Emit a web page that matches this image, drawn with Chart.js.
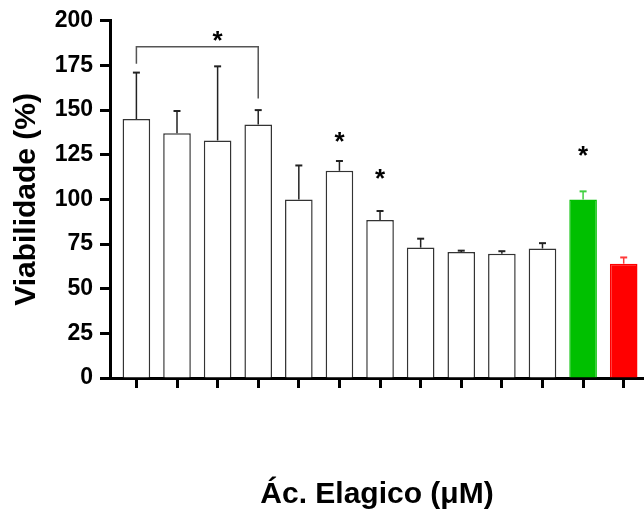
<!DOCTYPE html>
<html>
<head>
<meta charset="utf-8">
<script src="https://cdn.jsdelivr.net/npm/chart.js@4.4.0/dist/chart.umd.min.js"></script>
<style>
  html, body { margin: 0; padding: 0; background: #fff; }
  #grafico { display: block; }
</style>
</head>
<body>
<canvas id="grafico" width="644" height="522"></canvas>
<script>
// grupos (sem rótulo no eixo x)
var categorias = ['', '', '', '', '', '', '', '', '', '', '', '', ''];
// média e desvio da viabilidade (%)
var viabilidade = [145, 137, 133, 142, 100, 116, 88.5, 73, 70.5, 69.5, 72.5, 100, 64];
var desvio = [26, 12.5, 41.5, 8, 19, 5.5, 5, 5, 0.8, 1.5, 3, 4.5, 3.5];
var ticksY = [0, 25, 50, 75, 100, 125, 150, 175, 200];

var corFundo = ['#ffffff', '#ffffff', '#ffffff', '#ffffff', '#ffffff', '#ffffff', '#ffffff',
  '#ffffff', '#ffffff', '#ffffff', '#ffffff', '#00c000', '#ff0000'];
var corBorda = ['#333333', '#333333', '#333333', '#333333', '#333333', '#333333', '#333333',
  '#333333', '#333333', '#333333', '#333333', '#00c000', '#ff0000'];
var corErro = ['#222222', '#222222', '#222222', '#222222', '#222222', '#222222', '#222222',
  '#222222', '#222222', '#222222', '#222222', '#3fcf3f', '#ff3a3a'];

var fonte = "'Liberation Sans', Arial, sans-serif";

var barrasDeErro = {
  id: 'barrasDeErro',
  afterDatasetsDraw: function(chart) {
    var ctx = chart.ctx, sx = chart.scales.x, sy = chart.scales.y;
    ctx.save();
    viabilidade.forEach(function(v, i) {
      var px = sx.getPixelForValue(i);
      var base = sy.getPixelForValue(v);
      var topo = sy.getPixelForValue(v + desvio[i]);
      ctx.strokeStyle = corErro[i];
      ctx.lineWidth = 1.5;
      ctx.beginPath();
      ctx.moveTo(px, base);
      ctx.lineTo(px, topo);
      ctx.stroke();
      ctx.lineWidth = 2;
      ctx.beginPath();
      ctx.moveTo(px - 3.5, topo);
      ctx.lineTo(px + 3.5, topo);
      ctx.stroke();
    });
    ctx.restore();
  }
};

// colchete e asteriscos de significância
var significancia = {
  id: 'significancia',
  afterDatasetsDraw: function(chart) {
    var ctx = chart.ctx, sx = chart.scales.x, sy = chart.scales.y;
    ctx.save();
    ctx.strokeStyle = '#555555';
    ctx.lineWidth = 1.5;
    ctx.beginPath();
    ctx.moveTo(sx.getPixelForValue(0), sy.getPixelForValue(176));
    ctx.lineTo(sx.getPixelForValue(0), sy.getPixelForValue(185.5));
    ctx.lineTo(sx.getPixelForValue(3), sy.getPixelForValue(185.5));
    ctx.lineTo(sx.getPixelForValue(3), sy.getPixelForValue(156.5));
    ctx.stroke();

    ctx.fillStyle = '#000';
    ctx.font = 'bold 26px ' + fonte;
    ctx.textAlign = 'center';
    ctx.textBaseline = 'alphabetic';
    [[2, 189.5], [5, 132.5], [6, 112], [11, 125]].forEach(function(m) {
      ctx.fillText('*', sx.getPixelForValue(m[0]), sy.getPixelForValue(m[1]) + 9);
    });
    ctx.restore();
  }
};

new Chart(document.getElementById('grafico').getContext('2d'), {
  type: 'bar',
  data: {
    datasets: [{
      data: categorias.map(function(c, i) { return { x: i, y: viabilidade[i] }; }),
      backgroundColor: corFundo,
      borderColor: corBorda,
      borderWidth: 1.5,
      barPercentage: 0.68,
      categoryPercentage: 1
    }]
  },
  options: {
    responsive: false,
    animation: false,
    devicePixelRatio: 1,
    layout: { padding: { top: 19, right: 0, left: 0, bottom: 0 } },
    plugins: { legend: { display: false }, tooltip: { enabled: false } },
    scales: {
      x: {
        type: 'linear',
        min: -0.65,
        max: 12.5,
        offset: false,
        afterFit: function(s) { s.height = 144; },
        afterBuildTicks: function(s) {
          s.ticks = categorias.map(function(c, i) { return { value: i }; });
        },
        ticks: { display: false },
        grid: { offset: false, drawOnChartArea: false, drawTicks: true, tickLength: 10, tickWidth: 3, tickColor: '#000' },
        border: { display: true, color: '#000', width: 3 },
        title: {
          display: true,
          text: 'Ác. Elagico (μM)',
          color: '#000',
          font: { family: fonte, size: 30, weight: 'bold', lineHeight: 1.2 },
          padding: { top: 89, bottom: 9 }
        }
      },
      y: {
        min: 0,
        max: 200,
        afterFit: function(s) { s.width = 110; },
        afterBuildTicks: function(s) {
          s.ticks = ticksY.map(function(v) { return { value: v }; });
        },
        ticks: {
          color: '#000',
          padding: 7,
          font: { family: fonte, size: 23, weight: 'bold' }
        },
        grid: { drawOnChartArea: false, drawTicks: true, tickLength: 10, tickWidth: 3, tickColor: '#000' },
        border: { display: true, color: '#000', width: 3 },
        title: {
          display: true,
          text: 'Viabilidade (%)',
          color: '#000',
          font: { family: fonte, size: 30, weight: 'bold', lineHeight: 1.2 },
          padding: { top: 9, bottom: 0 }
        }
      }
    }
  },
  plugins: [barrasDeErro, significancia]
});
</script>
</body>
</html>
